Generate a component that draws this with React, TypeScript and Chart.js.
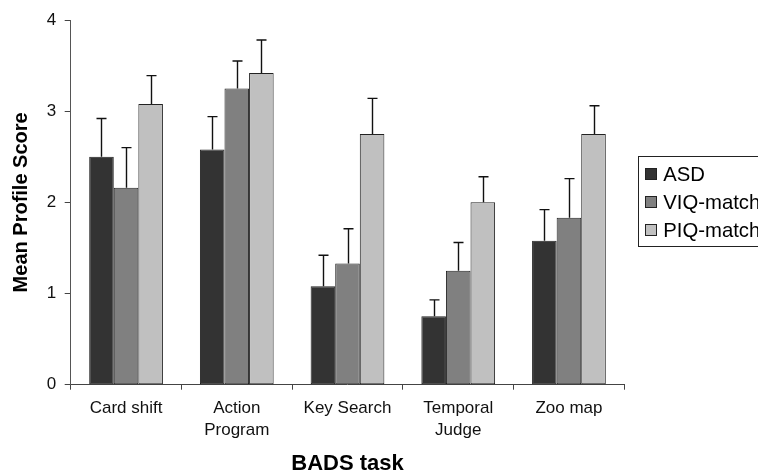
import React, { useEffect, useRef } from "react";
import { Chart, registerables } from "chart.js";

Chart.register(...registerables);

const categories: (string | string[])[] = [
  "Card shift",
  ["Action", "Program"],
  "Key Search",
  ["Temporal", "Judge"],
  "Zoo map",
];
const seriesNames = ["ASD", "VIQ-match", "PIQ-match"];
const asdValues = [2.5, 2.58, 1.08, 0.75, 1.58];
const viqValues = [2.16, 3.25, 1.33, 1.25, 1.83];
const piqValues = [3.08, 3.42, 2.75, 2.0, 2.75];
const asdErrors = [0.42, 0.36, 0.34, 0.18, 0.34];
const viqErrors = [0.44, 0.3, 0.38, 0.31, 0.43];
const piqErrors = [0.31, 0.36, 0.39, 0.28, 0.31];
const seriesColors = ["#333333", "#808080", "#c0c0c0"];
const yTicks = [0, 1, 2, 3, 4];

const FONT = "'Liberation Sans', Arial, sans-serif";

const errorBarPlugin = {
  id: "errorBars",
  afterDatasetsDraw(chart: any) {
    const ctx = chart.ctx;
    const yScale = chart.scales.y;
    ctx.save();
    ctx.strokeStyle = "#111111";
    ctx.lineWidth = 1.4;
    chart.data.datasets.forEach((ds: any, i: number) => {
      const meta = chart.getDatasetMeta(i);
      meta.data.forEach((el: any, j: number) => {
        const v = ds.data[j];
        const e = ds.errors[j];
        const top = yScale.getPixelForValue(v + e);
        const x = Math.round(el.x) + 0.5;
        ctx.beginPath();
        ctx.moveTo(x, el.y);
        ctx.lineTo(x, top);
        ctx.moveTo(x - 5, top);
        ctx.lineTo(x + 5, top);
        ctx.stroke();
      });
    });
    ctx.restore();
  },
};

const boxLegendPlugin = {
  id: "boxLegend",
  afterDraw(chart: any) {
    const ctx = chart.ctx;
    const bx = 638.5;
    const by = 156.5;
    ctx.save();
    ctx.strokeStyle = "#222222";
    ctx.lineWidth = 1;
    ctx.strokeRect(bx, by, 150, 90);
    ctx.font = `20.3px ${FONT}`;
    ctx.textBaseline = "middle";
    ctx.textAlign = "left";
    chart.data.datasets.forEach((ds: any, i: number) => {
      const cy = 174.3 + i * 28;
      ctx.fillStyle = ds.backgroundColor;
      ctx.fillRect(645, Math.round(cy - 6), 12, 12);
      ctx.strokeStyle = "#222222";
      ctx.strokeRect(645.5, Math.round(cy - 6) + 0.5, 11, 11);
      ctx.fillStyle = "#000000";
      ctx.fillText(ds.label, 663.3, cy + 1);
    });
    ctx.restore();
  },
};

export default function App() {
  const canvasRef = useRef<HTMLCanvasElement | null>(null);

  useEffect(() => {
    if (!canvasRef.current) return;
    const errs = [asdErrors, viqErrors, piqErrors];
    const vals = [asdValues, viqValues, piqValues];
    const chart = new Chart(canvasRef.current, {
      type: "bar",
      data: {
        labels: categories,
        datasets: seriesNames.map((name, i) => ({
          label: name,
          data: vals[i],
          errors: errs[i],
          backgroundColor: seriesColors[i],
          borderColor: "#222222",
          borderWidth: 1,
          borderSkipped: false,
          categoryPercentage: 0.666,
          barPercentage: 1.0,
        })) as any,
      },
      options: {
        animation: false,
        responsive: false,
        devicePixelRatio: 1,
        layout: { padding: { top: 20, right: 175.7, bottom: 0, left: 0 } },
        plugins: {
          legend: { display: false },
          tooltip: { enabled: false },
        },
        scales: {
          x: {
            afterFit: (scale: any) => {
              scale.height = 88.3;
            },
            grid: {
              display: true,
              drawOnChartArea: false,
              drawTicks: true,
              tickLength: 5,
              color: "#444444",
              offset: true,
            },
            border: { display: true, color: "#444444", width: 1 },
            ticks: {
              font: { family: FONT, size: 17, lineHeight: 1.27 },
              color: "#111111",
              padding: 8.3,
              maxRotation: 0,
              autoSkip: false,
            },
            title: {
              display: true,
              text: "BADS task",
              font: { family: FONT, size: 22, weight: "bold", lineHeight: 0.8 },
              color: "#000000",
              padding: { top: 0, bottom: 0 },
            },
          },
          y: {
            min: 0,
            max: 4,
            afterFit: (scale: any) => {
              scale.width = 70.7;
            },
            afterBuildTicks: (scale: any) => {
              scale.ticks = yTicks.map((v) => ({ value: v }));
            },
            grid: {
              display: true,
              drawOnChartArea: false,
              drawTicks: true,
              tickLength: 6,
              color: "#444444",
            },
            border: { display: true, color: "#555555", width: 1 },
            ticks: {
              font: { family: FONT, size: 17 },
              color: "#111111",
              padding: 8.5,
              stepSize: 1,
            },
            title: {
              display: true,
              text: "Mean Profile Score",
              font: { family: FONT, size: 20, weight: "bold", lineHeight: 1.2 },
              color: "#000000",
              padding: { top: 9.5, bottom: 0 },
            },
          },
        },
      } as any,
      plugins: [errorBarPlugin, boxLegendPlugin],
    });
    return () => chart.destroy();
  }, []);

  return (
    <div
      style={{
        position: "fixed",
        left: 0,
        top: 0,
        width: 758,
        height: 473,
        overflow: "hidden",
        background: "#ffffff",
      }}
    >
      <canvas ref={canvasRef} width={800} height={473} style={{ display: "block" }} />
    </div>
  );
}
